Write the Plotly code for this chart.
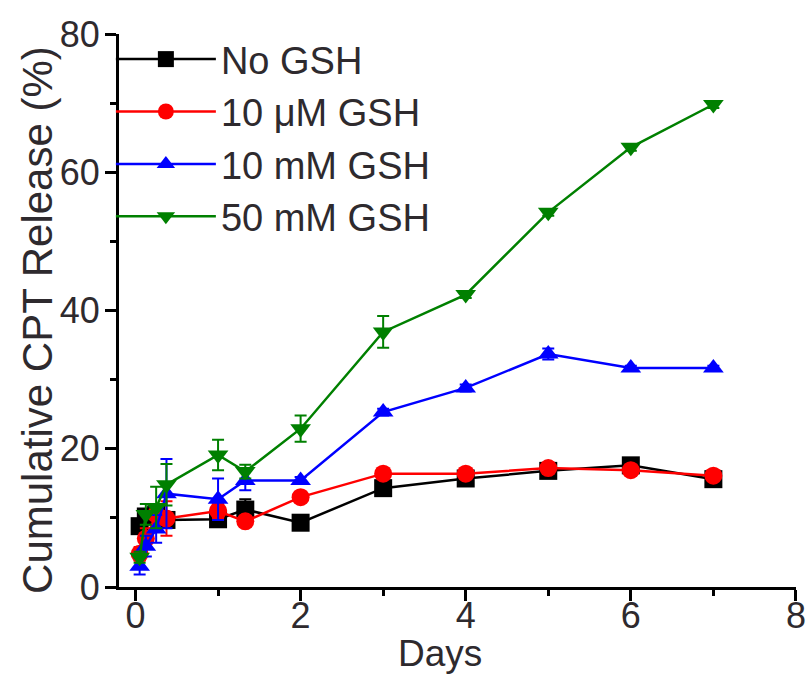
import plotly.graph_objects as go

days = [0.05, 0.125, 0.25, 0.375, 1, 1.33, 2, 3, 4, 5, 6, 7]

series_names = ["No GSH", "10 \u03bcM GSH", "10 mM GSH", "50 mM GSH"]

no_gsh = [8.8, 10.2, 10.5, 9.7, 9.8, 11.2, 9.3, 14.3, 15.7, 16.8, 17.6, 15.6]
no_gsh_err = [1.0, 1.0, 0.8, 0.5, 0.5, 1.5, 0.3, 0.5, 0.3, 0.3, 0.5, 0.5]

um10 = [4.8, 7.0, 10.5, 9.9, 11.0, 9.5, 13.0, 16.4, 16.4, 17.2, 16.9, 16.1]
um10_err = [1.0, 1.5, 1.5, 2.5, 1.0, 0.8, 0.5, 0.5, 0.3, 0.3, 0.3, 0.3]

mm10 = [3.0, 5.9, 8.4, 13.5, 12.7, 15.4, 15.4, 25.3, 28.8, 33.7, 31.7, 31.7]
mm10_err = [1.2, 1.5, 2.0, 5.0, 3.0, 1.4, 0.5, 0.5, 0.5, 0.8, 0.3, 0.3]

mm50 = [4.3, 10.5, 11.5, 14.8, 19.1, 16.7, 22.9, 36.9, 42.3, 54.2, 63.6, 69.8]
mm50_err = [0.8, 1.5, 3.0, 3.0, 2.2, 1.0, 1.9, 2.3, 0.5, 0.5, 0.5, 0.5]

x_ticks = [0, 2, 4, 6, 8]
y_ticks = [0, 20, 40, 60, 80]

x_title = "Days"
y_title = "Cumulative CPT Release (%)"

values = [no_gsh, um10, mm10, mm50]
errors = [no_gsh_err, um10_err, mm10_err, mm50_err]
colors = ["#000000", "#ff0000", "#0000ff", "#008000"]
symbols = ["square", "circle", "triangle-up", "triangle-down"]

FONT = "Liberation Sans, Arial, sans-serif"
TEXT = "#2e2a2e"

fig = go.Figure()
for name, v, e, c, s in zip(series_names, values, errors, colors, symbols):
    fig.add_trace(go.Scatter(
        x=days, y=v, name=name, mode="lines+markers",
        line=dict(color=c, width=2.5),
        marker=dict(symbol=s, size=18, color=c, line=dict(width=0)),
        error_y=dict(type="data", array=e, visible=True, color=c, thickness=2, width=6),
    ))

axis_common = dict(
    showline=True, linecolor="#000000", linewidth=3,
    ticks="outside", ticklen=11, tickwidth=2.5, tickcolor="#000000",
    showgrid=False, zeroline=False, automargin=False,
    tickfont=dict(family=FONT, size=36, color=TEXT),
    mirror=False,
)

fig.update_xaxes(
    **axis_common,
    range=[-0.2, 8.001], tickvals=x_ticks, ticktext=[str(t) for t in x_ticks],
    minor=dict(dtick=1, ticks="outside", ticklen=6, tickwidth=2.5, tickcolor="#000000"),
    ticklabelstandoff=-16,
)
fig.update_yaxes(
    **axis_common,
    range=[0, 80.001], tickvals=y_ticks, ticktext=[str(t) for t in y_ticks],
    minor=dict(dtick=10, ticks="outside", ticklen=6, tickwidth=2.5, tickcolor="#000000"),
    ticklabelstandoff=-2,
)

fig.add_annotation(
    text=x_title, xref="paper", yref="paper", x=0.474, y=-0.120,
    xanchor="center", yanchor="middle", showarrow=False, borderpad=0,
    font=dict(family=FONT, size=37, color=TEXT),
)
fig.add_annotation(
    text=y_title, xref="paper", yref="paper", x=-0.1196, y=0.483,
    xanchor="center", yanchor="middle", showarrow=False, textangle=-90,
    font=dict(family=FONT, size=42, color=TEXT),
)

fig.update_layout(
    width=806, height=677,
    margin=dict(l=119, r=10, t=34, b=90),
    plot_bgcolor="#ffffff", paper_bgcolor="#ffffff",
    showlegend=True,
    legend=dict(
        x=-0.012, y=1.011, xanchor="left", yanchor="top",
        font=dict(family=FONT, size=38, color=TEXT),
        bgcolor="rgba(0,0,0,0)", itemwidth=100, tracegroupgap=0,
        borderwidth=0,
    ),
)

fig.write_html(
    "out.html",
    config={"displayModeBar": False},
    post_script="document.body.style.margin='0';document.body.style.padding='0';",
)
